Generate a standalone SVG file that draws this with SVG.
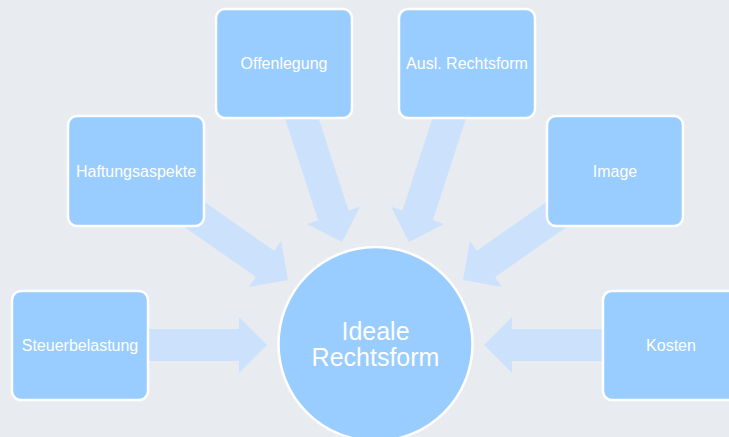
<svg xmlns="http://www.w3.org/2000/svg" width="729" height="437" viewBox="0 0 729 437">
  <style>
    .box { fill: #99CCFF; stroke: #FFFFFF; stroke-width: 2.5; }
    .arrow { fill: #CCE1FC; stroke: none; }
    .lbl { font-family: "Liberation Sans", Arial, sans-serif; font-size: 16px; fill: #FFFFFF; text-anchor: middle; }
    .big { font-family: "Liberation Sans", Arial, sans-serif; font-size: 25px; fill: #FFFFFF; text-anchor: middle; }
  </style>
  <rect width="729" height="437" fill="#E8ECF1"/>
  <g id="connectors">
    <polygon class="arrow" points="145,329 239,329 239,317 267,345 239,373 239,361 145,361"/>
    <polygon class="arrow" points="606,329 512,329 512,317 484,345 512,373 512,361 606,361"/>
    <polygon class="arrow" points="182.49,186.59 274.24,250.83 281.12,241 288,280 249,286.88 255.88,277.05 164.13,212.81"/>
    <polygon class="arrow" points="568.51,186.59 476.76,250.83 469.88,241 463,280 502,286.88 495.12,277.05 586.87,212.81"/>
    <polygon class="arrow" points="283.52,113.79 318.13,220.31 306.72,224.02 342,242 359.98,206.72 348.57,210.43 313.96,103.91"/>
    <polygon class="arrow" points="467.48,113.79 432.87,220.31 444.28,224.02 409,242 391.02,206.72 402.43,210.43 437.04,103.91"/>
  </g>
  <g id="center">
    <circle class="box" cx="375.5" cy="344" r="97"/>
    <text class="big" x="375.5" y="340">Ideale</text>
    <text class="big" x="375.5" y="366">Rechtsform</text>
  </g>
  <g id="steuerbelastung">
    <rect class="box" x="12" y="291" width="136" height="109" rx="9"/>
    <text class="lbl" x="80" y="350.5">Steuerbelastung</text>
  </g>
  <g id="haftungsaspekte">
    <rect class="box" x="68" y="116" width="136" height="110" rx="9"/>
    <text class="lbl" x="136" y="176.5">Haftungsaspekte</text>
  </g>
  <g id="offenlegung">
    <rect class="box" x="216" y="9" width="136" height="109" rx="9"/>
    <text class="lbl" x="284" y="69">Offenlegung</text>
  </g>
  <g id="ausl-rechtsform">
    <rect class="box" x="399" y="9" width="136" height="109" rx="9"/>
    <text class="lbl" x="467" y="69">Ausl. Rechtsform</text>
  </g>
  <g id="image">
    <rect class="box" x="547" y="116" width="136" height="110" rx="9"/>
    <text class="lbl" x="615" y="176.5">Image</text>
  </g>
  <g id="kosten">
    <rect class="box" x="603" y="291" width="136" height="109" rx="9"/>
    <text class="lbl" x="671" y="350.5">Kosten</text>
  </g>
</svg>
